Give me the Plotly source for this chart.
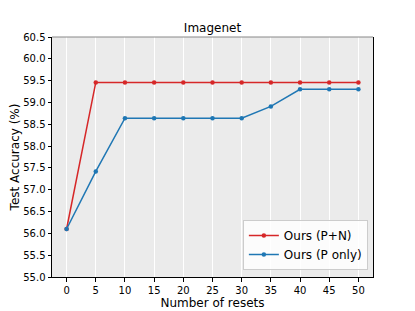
import plotly.graph_objects as go

resets = [0, 5, 10, 15, 20, 25, 30, 35, 40, 45, 50]
ours_pn = [56.1, 59.46, 59.46, 59.46, 59.46, 59.46, 59.46, 59.46, 59.46, 59.46, 59.46]
ours_p = [56.1, 57.42, 58.64, 58.64, 58.64, 58.64, 58.64, 58.91, 59.30, 59.30, 59.30]
y_ticks = [55.0, 55.5, 56.0, 56.5, 57.0, 57.5, 58.0, 58.5, 59.0, 59.5, 60.0, 60.5]

fig = go.Figure()
fig.add_trace(go.Scatter(x=resets, y=ours_pn, mode="lines+markers", name="Ours (P+N)",
                         line=dict(color="#d62728", width=1.5),
                         marker=dict(size=4.5, color="#d62728")))
fig.add_trace(go.Scatter(x=resets, y=ours_p, mode="lines+markers", name="Ours (P only)",
                         line=dict(color="#1f77b4", width=1.5),
                         marker=dict(size=4.5, color="#1f77b4")))

font = "DejaVu Sans"
W, H = 407, 303
fig.update_layout(
    width=W, height=H,
    margin=dict(l=44, r=42, t=29, b=34),
    paper_bgcolor="white", plot_bgcolor="#EBEBEB",
    font=dict(family=font, size=10, color="black"),
    title=dict(text="Imagenet", x=0.5, xref="paper", xanchor="center",
               y=1 - 20 / H, yanchor="middle", font=dict(size=12, family=font)),
    showlegend=True,
    legend=dict(x=0.984, y=0.029, xanchor="right", yanchor="bottom",
                bgcolor="rgba(255,255,255,0.85)", bordercolor="#cccccc", borderwidth=1,
                font=dict(size=12, family=font), tracegroupgap=0),
    xaxis=dict(range=[-2.5, 52.5], tickvals=resets, ticks="outside", ticklen=3.5,
               tickcolor="black", showgrid=True, gridcolor="white", gridwidth=1,
               zeroline=False, showline=True, linecolor="black", linewidth=1,
               automargin=False,
               title=dict(text="Number of resets", font=dict(size=12, family=font), standoff=4),
               tickfont=dict(size=10)),
    yaxis=dict(range=[55.0, 60.5], tickvals=y_ticks, tickformat=".1f", ticks="outside",
               ticklen=3.5, tickcolor="black", showgrid=False, zeroline=False,
               showline=True, linecolor="black", linewidth=1, mirror=True,
               automargin=False,
               title=dict(text="Test Accuracy (%)", font=dict(size=12, family=font), standoff=2),
               tickfont=dict(size=10)),
)
fig.add_shape(type="line", xref="paper", yref="paper", x0=0, x1=1, y0=1, y1=1,
              line=dict(color="#888888", width=1))
fig.write_html("out.html")
